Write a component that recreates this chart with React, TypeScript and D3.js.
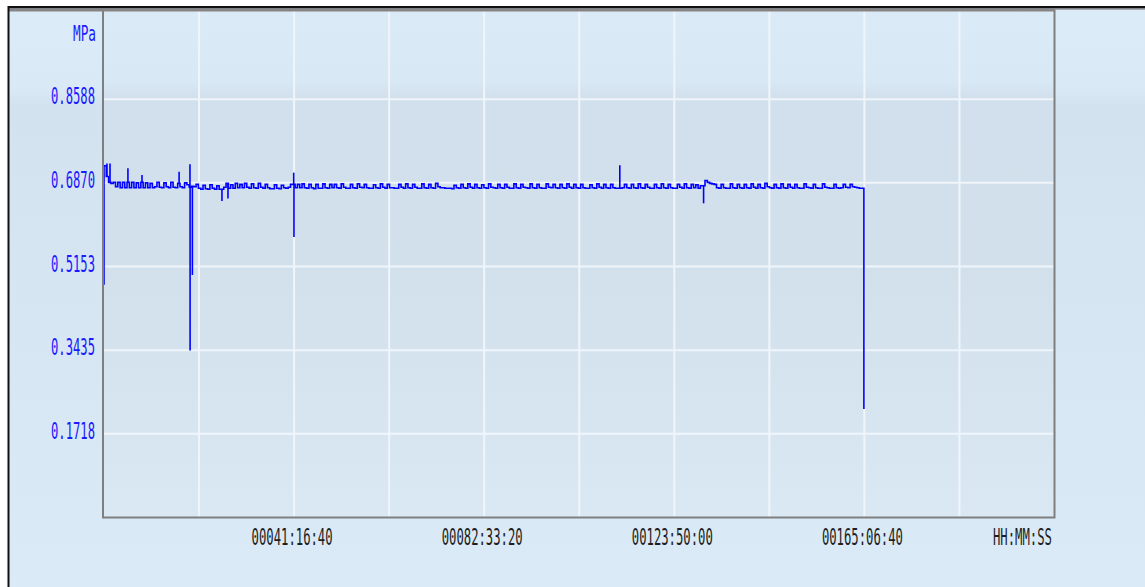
import React, { useEffect, useRef } from "react";
import * as d3 from "d3";

// logger samples, one every 30 min (1800 s), MPa
const sampleStepSec = 1800;
const pressure: number[] = [
  0.722, 0.7, 0.688, 0.686, 0.688, 0.679, 0.688, 0.677, 0.688, 0.677, 0.688, 0.677, 0.688, 0.677, 0.687, 0.677, 0.688, 0.677, 0.687, 0.677,
  0.686, 0.677, 0.679, 0.688, 0.678, 0.677, 0.687, 0.679, 0.677, 0.688, 0.678, 0.677, 0.686, 0.679, 0.677, 0.687, 0.683, 0.678, 0.68, 0.679,
  0.684, 0.676, 0.674, 0.682, 0.675, 0.674, 0.683, 0.676, 0.674, 0.681, 0.674, 0.674, 0.678, 0.686, 0.676, 0.683, 0.676, 0.686, 0.677, 0.684,
  0.677, 0.686, 0.678, 0.676, 0.685, 0.677, 0.676, 0.686, 0.678, 0.676, 0.684, 0.677, 0.675, 0.675, 0.683, 0.676, 0.675, 0.682, 0.677, 0.676,
  0.678, 0.684, 0.684, 0.677, 0.684, 0.677, 0.685, 0.677, 0.676, 0.684, 0.677, 0.675, 0.684, 0.676, 0.676, 0.685, 0.677, 0.676, 0.684, 0.677,
  0.684, 0.677, 0.676, 0.685, 0.678, 0.676, 0.676, 0.684, 0.677, 0.676, 0.685, 0.678, 0.677, 0.684, 0.677, 0.676, 0.676, 0.683, 0.677, 0.676,
  0.685, 0.678, 0.676, 0.684, 0.677, 0.677, 0.676, 0.676, 0.684, 0.678, 0.676, 0.685, 0.677, 0.676, 0.684, 0.678, 0.676, 0.676, 0.685, 0.677,
  0.676, 0.684, 0.677, 0.676, 0.686, 0.679, 0.677, 0.677, 0.676, 0.676, 0.676, 0.675, 0.682, 0.677, 0.676, 0.684, 0.677, 0.676, 0.685, 0.678,
  0.676, 0.684, 0.677, 0.676, 0.683, 0.677, 0.676, 0.685, 0.678, 0.677, 0.676, 0.684, 0.677, 0.676, 0.684, 0.678, 0.676, 0.676, 0.685, 0.677,
  0.676, 0.684, 0.678, 0.677, 0.676, 0.685, 0.677, 0.676, 0.684, 0.677, 0.676, 0.676, 0.685, 0.678, 0.677, 0.684, 0.677, 0.676, 0.684, 0.677,
  0.676, 0.685, 0.678, 0.676, 0.684, 0.677, 0.676, 0.684, 0.677, 0.676, 0.676, 0.683, 0.677, 0.676, 0.685, 0.678, 0.676, 0.684, 0.677, 0.676,
  0.684, 0.677, 0.676, 0.676, 0.676, 0.677, 0.684, 0.677, 0.676, 0.684, 0.677, 0.676, 0.685, 0.677, 0.676, 0.684, 0.678, 0.676, 0.676, 0.684,
  0.677, 0.676, 0.685, 0.677, 0.676, 0.684, 0.677, 0.676, 0.676, 0.684, 0.678, 0.676, 0.685, 0.677, 0.676, 0.684, 0.677, 0.683, 0.676, 0.681,
  0.681, 0.692, 0.688, 0.686, 0.685, 0.684, 0.677, 0.676, 0.684, 0.677, 0.676, 0.676, 0.685, 0.677, 0.676, 0.684, 0.677, 0.676, 0.684, 0.677,
  0.676, 0.685, 0.678, 0.676, 0.684, 0.677, 0.676, 0.686, 0.679, 0.677, 0.676, 0.684, 0.677, 0.676, 0.685, 0.677, 0.676, 0.684, 0.678, 0.676,
  0.684, 0.677, 0.676, 0.676, 0.685, 0.678, 0.677, 0.676, 0.684, 0.677, 0.676, 0.676, 0.685, 0.678, 0.677, 0.676, 0.676, 0.684, 0.677, 0.676,
  0.677, 0.684, 0.678, 0.677, 0.684, 0.679, 0.678, 0.677, 0.676, 0.676, 0.223,
];

// momentary peaks / dips recorded between samples
const spikeSec = [0, 2300, 4700, 18700, 29700, 58700, 67200, 67300, 69100, 92200, 96900, 148300, 148500, 403200, 468700];
const spikeMPa = [0.478, 0.727, 0.727, 0.717, 0.703, 0.71, 0.725, 0.343, 0.498, 0.65, 0.655, 0.708, 0.576, 0.723, 0.645];

const yTicks = [0.1718, 0.3435, 0.5153, 0.687, 0.8588];
const yMax = 1.0306;
const xTicksSec = [148600, 297200, 445800, 594400];
const xMaxSec = 743000;

const fmtTime = (s: number) => {
  const h = Math.floor(s / 3600);
  const m = Math.floor((s % 3600) / 60);
  const sec = Math.round(s % 60);
  return `${String(h).padStart(5, "0")}:${String(m).padStart(2, "0")}:${String(sec).padStart(2, "0")}`;
};

const App = () => {
  const ref = useRef<SVGSVGElement>(null);

  useEffect(() => {
    drawChart();
  }, []);

  const drawChart = () => {
    const svg = d3.select(ref.current);
    svg.selectAll("*").remove();

    const left = 104, right = 1054.5, top = 15.5, bottom = 517.5;
    const x = d3.scaleLinear().domain([0, xMaxSec]).range([left, right]);
    const y = d3.scaleLinear().domain([0, yMax]).range([bottom, top]);

    const defs = svg.append("defs");
    const bg = defs.append("linearGradient").attr("id", "bgGrad").attr("x1", 0).attr("y1", 0).attr("x2", 0).attr("y2", 1);
    [["0", "#dcebf8"], ["0.14", "#d9e9f6"], ["0.17", "#d2e2ef"], ["0.45", "#d5e5f2"], ["1", "#dbeaf7"]].forEach(([o, c]) =>
      bg.append("stop").attr("offset", o).attr("stop-color", c)
    );
    const pg = defs.append("linearGradient").attr("id", "plotGrad").attr("x1", 0).attr("y1", 0).attr("x2", 0).attr("y2", 1);
    [["0", "#dbeaf7"], ["0.14", "#d9e8f5"], ["0.17", "#d1e0ec"], ["0.5", "#d2e0ec"], ["1", "#dae8f4"]].forEach(([o, c]) =>
      pg.append("stop").attr("offset", o).attr("stop-color", c)
    );

    svg.append("rect").attr("x", 0).attr("y", 0).attr("width", 1145).attr("height", 587).attr("fill", "#ffffff");
    svg.append("rect").attr("x", 8).attr("y", 7).attr("width", 1137).attr("height", 580).attr("fill", "url(#bgGrad)");
    svg.append("rect").attr("x", left).attr("y", 11).attr("width", right - left).attr("height", bottom - 11).attr("fill", "url(#plotGrad)");

    // grid
    const grid = svg.append("g").attr("stroke", "#f0f5fa").attr("stroke-width", 2);
    grid.selectAll("line.v")
      .data(d3.range(1, 10).map((i) => (xMaxSec * i) / 10))
      .enter()
      .append("line")
      .attr("x1", (d) => x(d)).attr("x2", (d) => x(d))
      .attr("y1", 11).attr("y2", bottom);
    grid.selectAll("line.h")
      .data(yTicks)
      .enter()
      .append("line")
      .attr("x1", left).attr("x2", right)
      .attr("y1", (d) => y(d)).attr("y2", (d) => y(d));

    // pressure trace
    const line = d3.line<number>()
      .x((_, i) => x(i * sampleStepSec))
      .y((d) => y(d))
      .curve(d3.curveStepAfter);
    svg.append("path")
      .datum(pressure)
      .attr("d", line)
      .attr("fill", "none")
      .attr("stroke", "#0000ff")
      .attr("stroke-width", 1.6);

    // spikes: vertical from the sample level to the spike value
    svg.append("g")
      .selectAll("line")
      .data(spikeSec.map((s, i) => ({ s, v: spikeMPa[i] })))
      .enter()
      .append("line")
      .attr("x1", (d) => x(d.s)).attr("x2", (d) => x(d.s))
      .attr("y1", (d) => y(pressure[Math.floor(d.s / sampleStepSec)]))
      .attr("y2", (d) => y(d.v))
      .attr("stroke", "#0000ff")
      .attr("stroke-width", 1.6);

    // frames
    svg.append("rect").attr("x", 8).attr("y", 6).attr("width", 1137).attr("height", 2.5).attr("fill", "#111");
    svg.append("rect").attr("x", 8).attr("y", 8.5).attr("width", right - 7).attr("height", 3).attr("fill", "#858585");
    svg.append("rect").attr("x", right).attr("y", 8.5).attr("width", 1145 - right).attr("height", 1.2).attr("fill", "#8c8c8c");
    svg.append("rect").attr("x", 7.5).attr("y", 6).attr("width", 2).attr("height", 581).attr("fill", "#111");
    const frame = svg.append("g").attr("stroke", "#7f7f7f").attr("stroke-width", 2).attr("fill", "none");
    frame.append("path").attr("d", `M${left - 1},11V${bottom}H${right}V11`);

    // y labels
    svg.append("g")
      .selectAll("text")
      .data(yTicks)
      .enter()
      .append("text")
      .attr("x", 95)
      .attr("y", (d) => y(d) + 5)
      .attr("text-anchor", "end")
      .attr("textLength", 44)
      .attr("lengthAdjust", "spacingAndGlyphs")
      .attr("font-family", "DejaVu Sans Mono")
      .attr("font-size", 23)
      .attr("fill", "#1a1aff")
      .text((d) => d.toFixed(4));

    svg.append("text")
      .attr("x", 96).attr("y", 41)
      .attr("text-anchor", "end")
      .attr("textLength", 23)
      .attr("lengthAdjust", "spacingAndGlyphs")
      .attr("font-family", "DejaVu Sans Mono")
      .attr("font-size", 22)
      .attr("fill", "#1a1aff")
      .text("MPa");

    // x labels
    svg.append("g")
      .selectAll("text")
      .data(xTicksSec)
      .enter()
      .append("text")
      .attr("x", (d) => x(d) - 2)
      .attr("y", 545)
      .attr("text-anchor", "middle")
      .attr("textLength", 81)
      .attr("lengthAdjust", "spacingAndGlyphs")
      .attr("font-family", "DejaVu Sans Mono")
      .attr("font-size", 23)
      .attr("fill", "#1e1e1e")
      .text((d) => fmtTime(d));

    svg.append("text")
      .attr("x", 1022.5).attr("y", 545)
      .attr("text-anchor", "middle")
      .attr("textLength", 59)
      .attr("lengthAdjust", "spacingAndGlyphs")
      .attr("font-family", "DejaVu Sans Mono")
      .attr("font-size", 23)
      .attr("fill", "#1e1e1e")
      .text("HH:MM:SS");
  };

  return (
    <svg
      ref={ref}
      width={1145}
      height={587}
      style={{ position: "absolute", left: 0, top: 0, display: "block" }}
    ></svg>
  );
};

export default App;
